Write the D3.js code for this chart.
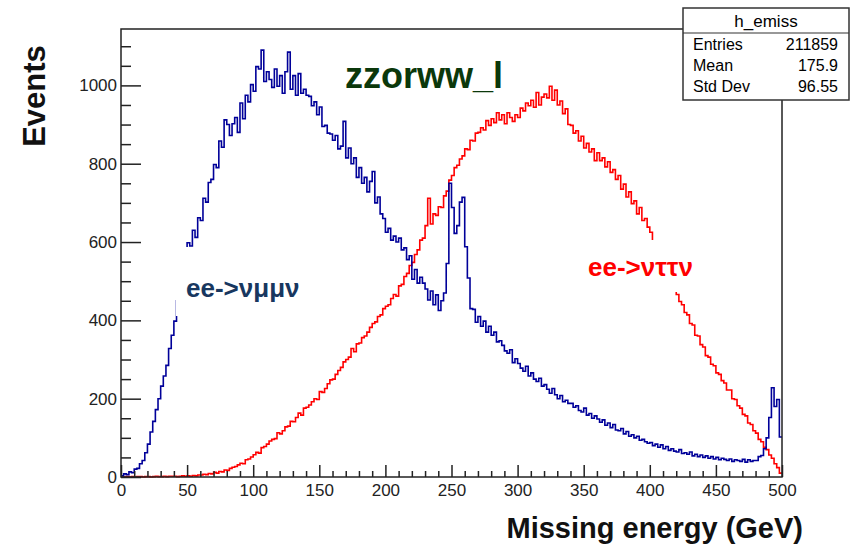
<!DOCTYPE html>
<html>
<head>
<meta charset="utf-8">
<script src="https://cdn.jsdelivr.net/npm/d3@7"></script>
<style>
  body { margin: 0; background: #fff; }
  svg { display: block; font-family: "Liberation Sans", Arial, sans-serif; }
</style>
</head>
<body>
<div id="chart"></div>
<script>
// histogram binning: 250 bins of 2 GeV from 0 to 500
const binEdges = [0, 500];
const nBins = 250;

// ee->v mu mu v (blue)
const blueCounts = [
  3, 8, 6, 13, 11, 20, 22, 34, 42, 62,
  84, 115, 142, 172, 200, 232, 258, 285, 328, 362,
  398, 450, 470, 530, 552, 598, 590, 630, 612, 662,
  655, 712, 702, 752, 760, 798, 790, 858, 842, 912,
  900, 872, 902, 918, 880, 955, 915, 975, 958, 1002,
  985, 1048, 1042, 1090, 1010, 1035, 1015, 995, 1042, 998,
  1025, 980, 1035, 1085, 990, 1025, 975, 1030, 980, 990,
  975, 972, 948, 958, 925, 945, 895, 898, 878, 876,
  860, 872, 838, 845, 908, 815, 840, 800, 815, 765,
  790, 750, 765, 728, 755, 780, 700, 715, 672, 660,
  625, 635, 605, 615, 600, 610, 580, 585, 555, 565,
  505, 530, 495, 510, 495, 480, 452, 475, 440, 465,
  425, 450, 470, 545, 750, 688, 622, 642, 702, 714,
  588, 508, 430, 428, 395, 410, 385, 398, 370, 385,
  362, 370, 345, 348, 336, 322, 316, 325, 292, 302,
  290, 278, 270, 283, 258, 266, 250, 244, 252, 232,
  236, 224, 214, 226, 210, 200, 208, 192, 196, 188,
  188, 178, 182, 170, 166, 176, 158, 162, 150, 156,
  148, 140, 146, 132, 138, 126, 134, 120, 118, 124,
  110, 116, 104, 108, 100, 104, 94, 96, 90, 86,
  88, 80, 84, 76, 82, 72, 78, 68, 72, 66,
  64, 70, 60, 62, 58, 64, 54, 58, 52, 56,
  50, 54, 48, 52, 46, 50, 44, 48, 45, 42,
  46, 40, 44, 42, 40, 45, 38, 44, 40, 42,
  42, 52, 55, 72, 100, 152, 228, 180, 198, 102
];

// ee->v tau tau v (red)
const redCounts = [
  0, 0, 1, 0, 1, 0, 1, 1, 0, 1,
  1, 0, 1, 2, 1, 1, 2, 1, 2, 2,
  2, 1, 2, 3, 2, 3, 2, 4, 3, 5,
  5, 7, 6, 9, 8, 12, 10, 14, 13, 18,
  17, 22, 25, 27, 31, 35, 34, 44, 46, 51,
  57, 63, 61, 75, 78, 84, 92, 96, 98, 113,
  110, 118, 128, 130, 142, 141, 152, 163, 158, 176,
  178, 184, 192, 200, 198, 218, 216, 226, 238, 248,
  250, 262, 272, 280, 294, 300, 306, 328, 320, 340,
  342, 356, 360, 370, 382, 392, 396, 410, 414, 430,
  436, 440, 456, 466, 462, 488, 492, 512, 520, 540,
  548, 568, 580, 605, 610, 642, 712, 646, 672, 668,
  690, 688, 718, 730, 758, 770, 790, 796, 812, 820,
  838, 836, 860, 858, 878, 880, 892, 886, 910, 898,
  915, 905, 930, 912, 925, 902, 930, 918, 908, 925,
  918, 942, 935, 955, 948, 962, 944, 982, 950, 970,
  978, 968, 998, 962, 988, 950, 960, 928, 940, 900,
  898, 878, 884, 858, 870, 840, 852, 830, 838, 808,
  828, 808, 815, 792, 805, 778, 785, 760, 770, 735,
  748, 715, 728, 698, 705, 672, 688, 655, 660, 638,
  625, 588, 598, 565, 570, 535, 540, 505, 500, 485,
  466, 448, 440, 420, 414, 392, 388, 362, 360, 338,
  332, 310, 306, 288, 284, 266, 262, 246, 240, 222,
  222, 200, 198, 182, 176, 160, 156, 138, 134, 118,
  112, 96, 90, 76, 70, 56, 48, 34, 24, 10
];

const yMajorTicks = [0, 200, 400, 600, 800, 1000];
const xMajorTicks = [0, 50, 100, 150, 200, 250, 300, 350, 400, 450, 500];
const statsLabels = ["Entries", "Mean", "Std Dev"];
const statsValues = ["211859", "175.9", "96.55"];
const histName = "h_emiss";

const width = 857, height = 548;
const plotLeft = 121, plotRight = 782, plotTop = 29, plotBottom = 477;

const svg = d3.select("#chart").append("svg")
  .attr("width", width)
  .attr("height", height);

const x = d3.scaleLinear().domain(binEdges).range([plotLeft, plotRight]);
const y = d3.scaleLinear().domain([0, 1144]).range([plotBottom, plotTop]);

const binW = (binEdges[1] - binEdges[0]) / nBins;

function stepPoints(counts) {
  let pts = counts.map((c, i) => [binEdges[0] + i * binW, c]);
  pts.push([binEdges[1], counts[counts.length - 1]]);
  return pts;
}

let line = d3.line()
  .x(d => x(d[0]))
  .y(d => y(d[1]))
  .curve(d3.curveStepAfter);

// histograms
svg.append("path")
  .attr("d", line(stepPoints(redCounts)))
  .attr("fill", "none")
  .attr("stroke", "#ff0000")
  .attr("stroke-width", 1.6);

svg.append("path")
  .attr("d", line(stepPoints(blueCounts)))
  .attr("fill", "none")
  .attr("stroke", "#000099")
  .attr("stroke-width", 1.6);

// axes (ticks drawn inward like ROOT)
let yMinor = d3.range(0, 1144, 50).filter(v => v % 200 !== 0);
let xMinor = d3.range(0, 501, 10).filter(v => v % 50 !== 0);

let gy = svg.append("g").attr("transform", `translate(${plotLeft},0)`);
gy.call(d3.axisLeft(y).tickValues(yMajorTicks).tickFormat(d3.format("d"))
  .tickSizeInner(-20).tickSizeOuter(0).tickPadding(4));
gy.append("g").call(d3.axisLeft(y).tickValues(yMinor).tickSizeInner(-10).tickSizeOuter(0).tickFormat(""));

let gx = svg.append("g").attr("transform", `translate(0,${plotBottom})`);
gx.call(d3.axisBottom(x).tickValues(xMajorTicks).tickFormat(d3.format("d"))
  .tickSizeInner(-12).tickSizeOuter(0).tickPadding(7));
gx.append("g").call(d3.axisBottom(x).tickValues(xMinor).tickSizeInner(-6).tickSizeOuter(0).tickFormat(""));

svg.selectAll(".domain").remove();
svg.selectAll(".tick line").attr("stroke", "#222").attr("stroke-width", 1.5);
svg.selectAll(".tick text")
  .attr("fill", "#222")
  .style("font-size", "17px")
  .style("font-family", "'Liberation Sans', Arial, sans-serif");

// frame
svg.append("rect")
  .attr("x", plotLeft).attr("y", plotTop)
  .attr("width", plotRight - plotLeft).attr("height", plotBottom - plotTop)
  .attr("fill", "none")
  .attr("stroke", "#222")
  .attr("stroke-width", 1.5);

// labels with white backgrounds (they hide part of the curves)
svg.append("rect").attr("x", 176).attr("y", 247).attr("width", 150).attr("height", 69).attr("fill", "#fff");
svg.append("text")
  .attr("x", 186).attr("y", 297)
  .attr("fill", "#18375f")
  .style("font-size", "26px").style("font-weight", "bold")
  .text("ee->νμμν");

svg.append("rect").attr("x", 578).attr("y", 240).attr("width", 130).attr("height", 52).attr("fill", "#fff");
svg.append("text")
  .attr("x", 588).attr("y", 276)
  .attr("fill", "#ff0000")
  .style("font-size", "26px").style("font-weight", "bold")
  .text("ee->νττν");

svg.append("text")
  .attr("x", 345).attr("y", 88)
  .attr("fill", "#0b380b")
  .style("font-size", "36px").style("font-weight", "bold")
  .text("zzorww_l");

// axis titles
svg.append("text")
  .attr("x", 803).attr("y", 538)
  .attr("text-anchor", "end")
  .attr("fill", "#111")
  .style("font-size", "29px").style("font-weight", "bold")
  .text("Missing energy (GeV)");

svg.append("text")
  .attr("transform", "translate(45,96) rotate(-90)")
  .attr("text-anchor", "middle")
  .attr("fill", "#111")
  .style("font-size", "31px").style("font-weight", "bold")
  .text("Events");

// stats box
let sb = { x: 683, y: 8, w: 166, h: 92, title: 25 };
let stats = svg.append("g");
stats.append("rect")
  .attr("x", sb.x).attr("y", sb.y).attr("width", sb.w).attr("height", sb.h)
  .attr("fill", "#fff").attr("stroke", "#333").attr("stroke-width", 1.5);
stats.append("line")
  .attr("x1", sb.x).attr("x2", sb.x + sb.w)
  .attr("y1", sb.y + sb.title).attr("y2", sb.y + sb.title)
  .attr("stroke", "#333").attr("stroke-width", 1.2);
stats.append("text")
  .attr("x", sb.x + sb.w / 2).attr("y", 27)
  .attr("text-anchor", "middle")
  .style("font-size", "17px")
  .text(histName);

statsLabels.forEach((lab, i) => {
  let yy = [50, 71, 92][i];
  stats.append("text").attr("x", 693).attr("y", yy)
    .style("font-size", "16px").text(lab);
  stats.append("text").attr("x", 838).attr("y", yy)
    .attr("text-anchor", "end")
    .style("font-size", "16px").text(statsValues[i]);
});
</script>
</body>
</html>
